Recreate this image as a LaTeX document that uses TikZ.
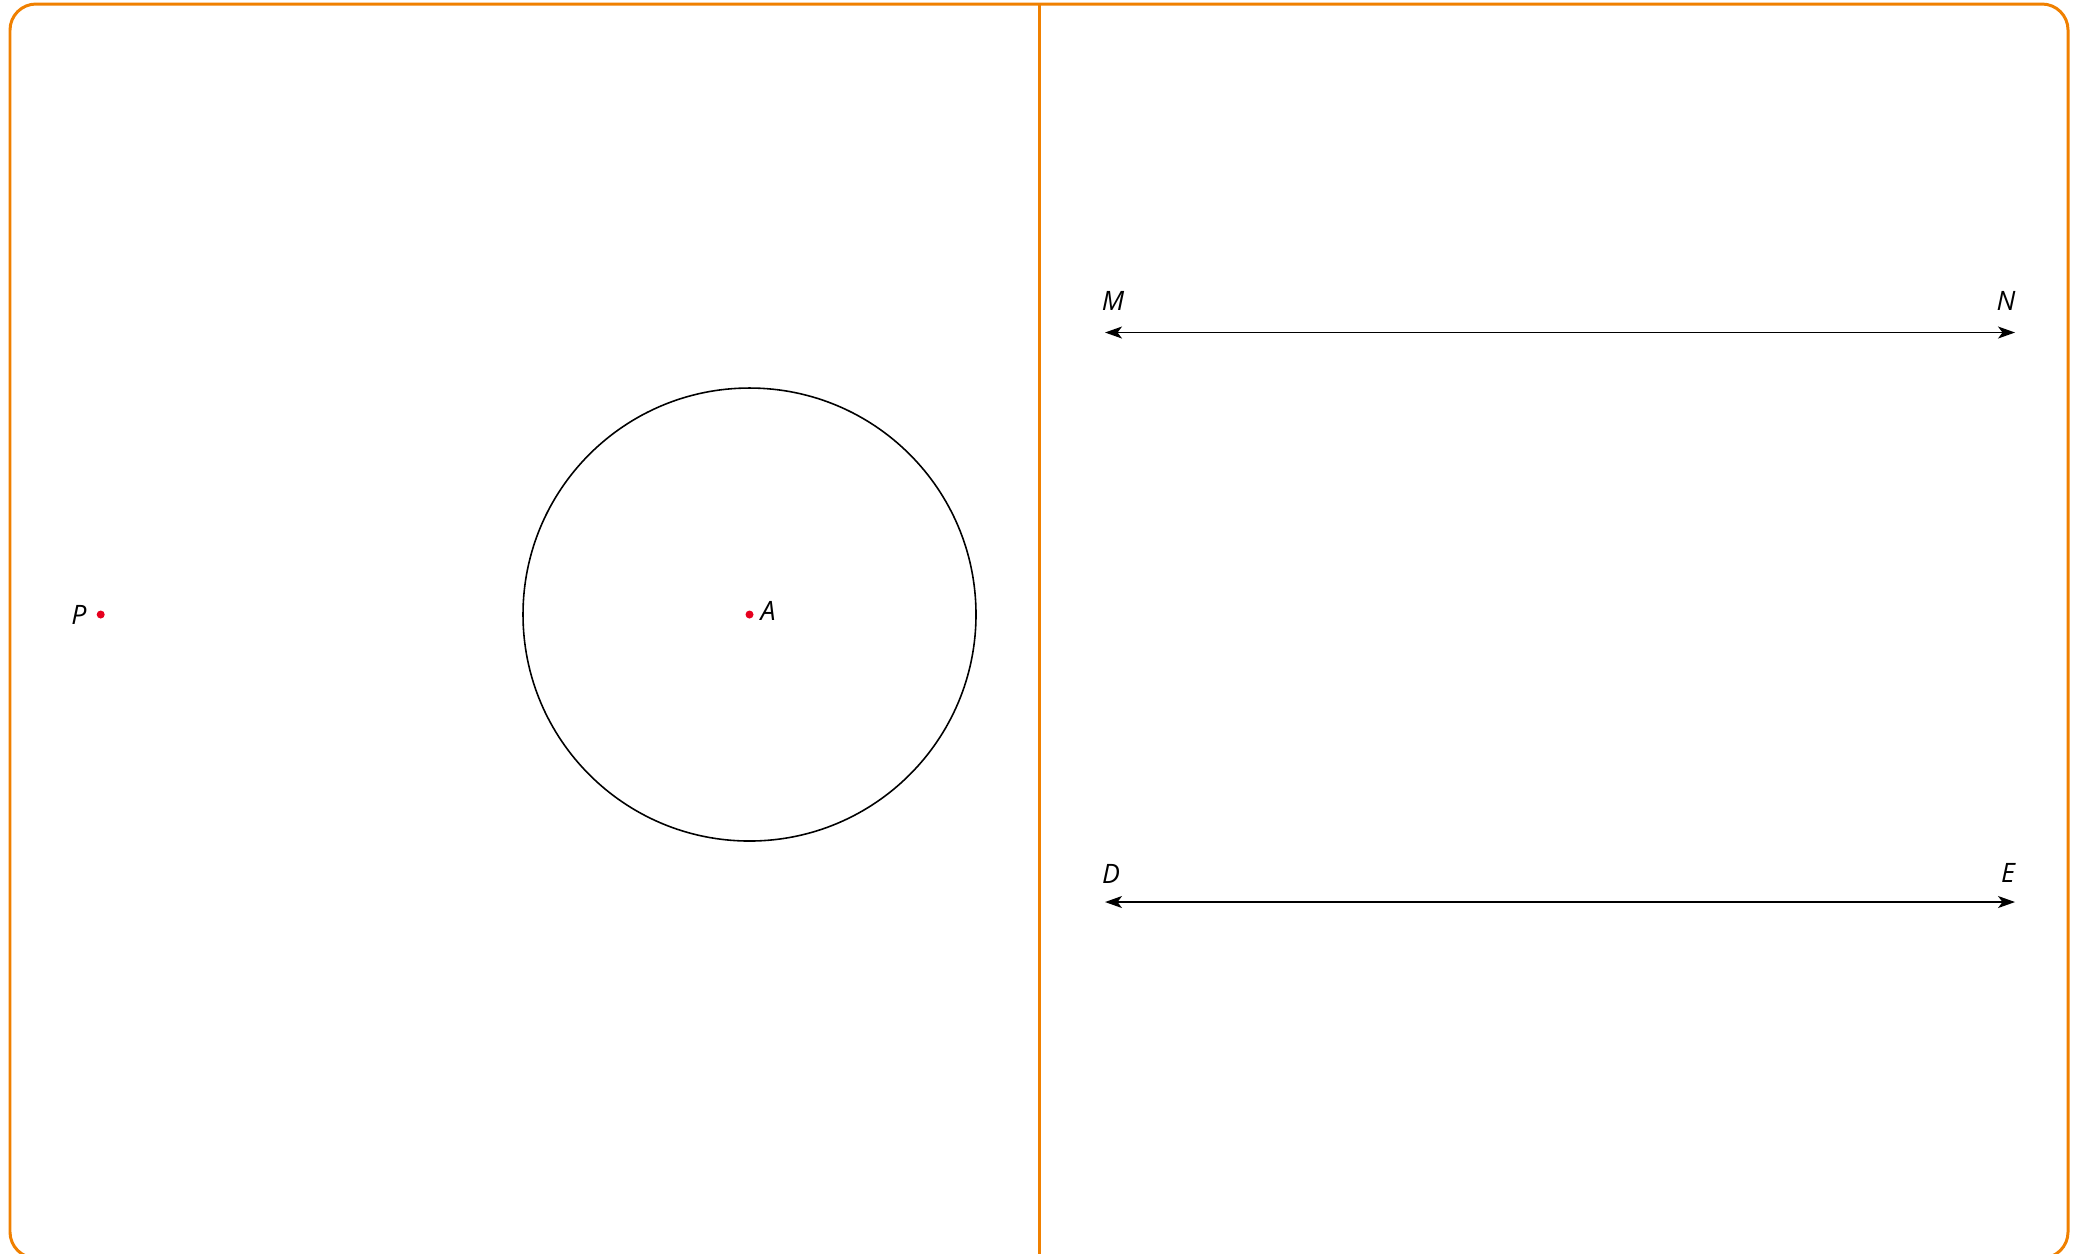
\documentclass[tikz,border=0pt]{standalone}
\usepackage{fontspec}
\setsansfont{Open Sans}
\usetikzlibrary{arrows.meta}

\definecolor{frameorange}{RGB}{240,128,0}
\definecolor{dotred}{RGB}{230,0,30}

\begin{document}
\begin{tikzpicture}[x=0.01cm,y=-0.01cm,
	>={Stealth[length=0.17cm,width=0.12cm,inset=0.045cm]},
	lbl/.style={font=\sffamily\itshape\fontsize{7.6}{9}\selectfont,inner sep=0pt}]

\useasboundingbox (0,0) rectangle (2077,1253);

% frame and divider
\draw[color=frameorange,line width=0.85pt,rounded corners=0.26cm] (10,4) rectangle (2068,1258);
\coordinate (top) at (1039,4);
\coordinate (bottom) at (1039,1258);
\draw[color=frameorange,line width=0.85pt] (top)--(bottom);

% left: point and circle
\coordinate (A) at (749.5,614.5);
\coordinate (P) at (100.7,614.5);
\draw[line width=0.45pt] (A) circle[radius=226.5];
\fill[color=dotred] (A) circle[radius=4];
\fill[color=dotred] (P) circle[radius=4];
\node[lbl] (labA) at (768,611) {A};
\node[lbl] (labP) at (79,615) {P};

% right: two lines
\coordinate (M) at (1105,332.5);
\coordinate (N) at (2015,332.5);
\coordinate (D) at (1105,902);
\coordinate (E) at (2015,902);
\draw[<->,line width=0.45pt] (M)--(N);
\draw[<->,line width=0.45pt] (D)--(E);
\node[lbl] (labM) at (1113,301) {M};
\node[lbl] (labN) at (2006,301) {N};
\node[lbl] (labD) at (1111,874) {D};
\node[lbl] (labE) at (2008,873) {E};

\end{tikzpicture}
\end{document}
